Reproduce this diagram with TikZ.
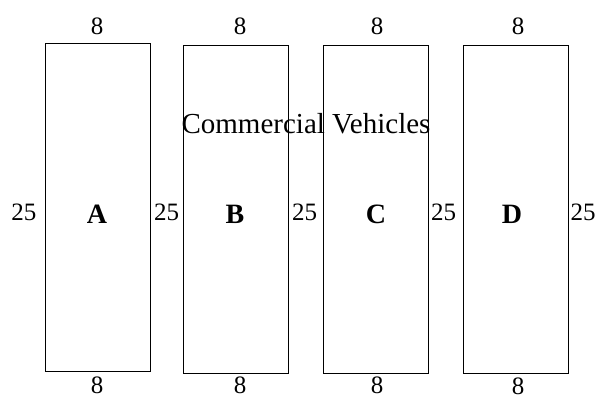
\documentclass[tikz,border=0pt]{standalone}
\usepackage{fontspec}
\setmainfont{Liberation Serif}
\begin{document}
\begin{tikzpicture}[x=1pt,y=-1pt,
  slot/.style={draw=black, line width=1pt, inner sep=0pt, minimum width=105pt, minimum height=328pt},
  dim/.style={font=\fontsize{25}{25}\selectfont, inner sep=0pt, anchor=base},
  letter/.style={font=\fontsize{28}{28}\selectfont\bfseries, inner sep=0pt, anchor=base},
  title/.style={font=\fontsize{29}{29}\selectfont, inner sep=0pt, anchor=base}]
\useasboundingbox (0,0) rectangle (595,399);
\node[title] (title) at (306,133) {Commercial Vehicles};
\node[slot] (A) at (97.5,207.5) {};
\node[slot] (B) at (236,209) {};
\node[slot] (C) at (375.5,209) {};
\node[slot] (D) at (515.5,209) {};
\node[letter] (lA) at (97,223) {A};
\node[letter] (lB) at (235,223) {B};
\node[letter] (lC) at (376,223) {C};
\node[letter] (lD) at (512,223) {D};
\node[dim] (tA) at (97,34) {8};
\node[dim] (tB) at (240,34) {8};
\node[dim] (tC) at (377,34) {8};
\node[dim] (tD) at (518,34) {8};
\node[dim] (bA) at (97,393.5) {8};
\node[dim] (bB) at (240,393.5) {8};
\node[dim] (bC) at (377,393.5) {8};
\node[dim] (bD) at (518,394.5) {8};
\node[dim] (s1) at (24,220) {25};
\node[dim] (s2) at (166.5,220) {25};
\node[dim] (s3) at (304.5,220) {25};
\node[dim] (s4) at (443.5,220) {25};
\node[dim] (s5) at (583,220) {25};
\end{tikzpicture}
\end{document}
